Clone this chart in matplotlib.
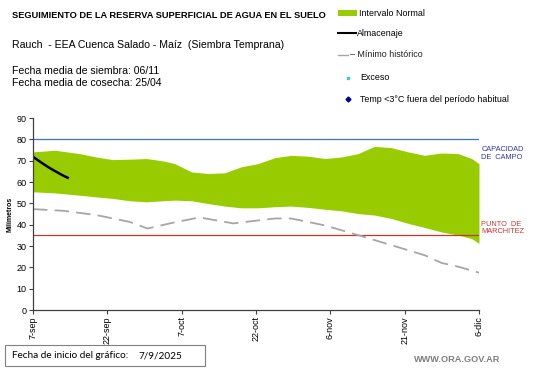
import matplotlib
matplotlib.use("Agg")
import matplotlib.pyplot as plt
from matplotlib.patches import Rectangle
from matplotlib.lines import Line2D

plt.rcParams['font.family'] = ['Liberation Sans', 'DejaVu Sans']

# --- data (days since 7-sep) ---
band_days = [0, 4.4, 9.4, 12.8, 16.1, 19.5, 22.9, 26.2, 28.6, 32, 35.3, 38.7, 42, 45.4, 48.8,
             52.1, 55.5, 59, 62.2, 65.6, 68.9, 72.3, 75.7, 79, 82.4, 85.8, 88.5, 90]
band_upper = [74.1, 74.9, 73.3, 71.7, 70.5, 70.7, 71.0, 69.9, 68.6, 64.7, 64.0, 64.3, 67.1, 68.6, 71.4,
              72.5, 72.1, 71.0, 71.7, 73.3, 76.7, 76.1, 74.1, 72.5, 73.6, 73.3, 71.0, 68.6]
band_lower = [55.4, 54.9, 53.8, 53.0, 52.3, 51.2, 50.7, 51.2, 51.5, 51.2, 49.9, 48.7, 47.9, 47.9, 48.4,
              48.7, 48.1, 47.2, 46.5, 45.2, 44.5, 42.9, 40.6, 38.7, 36.6, 35.1, 33.5, 31.2]

min_days = [0, 6.1, 12.8, 19.5, 23.1, 28.2, 33.6, 40.4, 48.8, 52.1, 59, 65.6, 72.3, 79, 82.4, 85.8, 90]
min_hist = [47.3, 46.5, 44.5, 41.3, 38.2, 40.9, 43.4, 40.6, 42.9, 42.9, 39.6, 35.1, 30.4, 25.7, 22.1, 20.3, 17.5]

alm_days = [0, 1, 2, 3, 4, 5, 6, 7]
almacenaje = [71.8, 70.2, 68.6, 67.1, 65.7, 64.4, 63.1, 62.0]

capacidad_campo = 80
punto_marchitez = 35

tick_days = [0, 15, 30, 45, 60, 75, 90]
tick_labels = ['7-sep', '22-sep', '7-oct', '22-oct', '6-nov', '21-nov', '6-dic']

fig = plt.figure(figsize=(5.41, 3.68), dpi=100)
ax = fig.add_axes([33/541, 1 - 310/368, (479-33)/541, (310-118)/368])

ax.fill_between(band_days, band_lower, band_upper, color='#99cc00', linewidth=0)
ax.axhline(capacidad_campo, color='#3f72c0', linewidth=0.9)
ax.axhline(punto_marchitez, color='#c0392b', linewidth=0.9)
ax.plot(min_days, min_hist, color='#a6a6a6', linewidth=1.3, dashes=(8, 4))
ax.plot(alm_days, almacenaje, color='black', linewidth=1.8)

ax.set_xlim(0, 90)
ax.set_ylim(0, 90)
ax.set_yticks(range(0, 91, 10))
ax.set_xticks(tick_days)
ax.set_xticklabels(tick_labels, rotation=90)
ax.tick_params(axis='both', labelsize=6.5, length=3, width=0.8, color='#404040', pad=1.5)
for s in ['top', 'right']:
    ax.spines[s].set_visible(False)
for s in ['left', 'bottom']:
    ax.spines[s].set_color('#404040')
    ax.spines[s].set_linewidth(0.9)
ax.set_ylabel('Milímetros', fontsize=5, fontweight='bold', labelpad=2)

# right-side labels
ax.text(1.005, (80 - 90) / 90 + 1 - 0.035, 'CAPACIDAD\nDE  CAMPO', transform=ax.transAxes,
        color='#3333aa', fontsize=5.3, va='top', ha='left', linespacing=1.2)
ax.text(1.005, 35/90 + 0.075, 'PUNTO  DE\nMARCHITEZ', transform=ax.transAxes,
        color='#cc3333', fontsize=5.3, va='top', ha='left', linespacing=1.1)

# header texts
fig.text(12/541, 1 - 15/368, 'SEGUIMIENTO DE LA RESERVA SUPERFICIAL DE AGUA EN EL SUELO',
         fontsize=6.7, fontweight='bold', va='center', ha='left')
fig.text(12/541, 1 - 45/368, 'Rauch  - EEA Cuenca Salado - Maíz  (Siembra Temprana)',
         fontsize=7.6, va='center', ha='left')
fig.text(12/541, 1 - 71/368, 'Fecha media de siembra: 06/11', fontsize=7.6, va='center', ha='left')
fig.text(12/541, 1 - 83.5/368, 'Fecha media de cosecha: 25/04', fontsize=7.6, va='center', ha='left')

# legend (manual)
fig.patches.append(Rectangle((338/541, 1 - 15.5/368), 19/541, 5/368, transform=fig.transFigure,
                             color='#99cc00', linewidth=0))
fig.text(359/541, 1 - 13/368, 'Intervalo Normal', fontsize=6.4, va='center', ha='left')
fig.lines.append(Line2D([338/541, 356/541], [1 - 33/368, 1 - 33/368], transform=fig.transFigure,
                        color='black', linewidth=1.5))
fig.text(357/541, 1 - 33/368, 'Almacenaje', fontsize=6.4, va='center', ha='left')
fig.lines.append(Line2D([338/541, 348/541], [1 - 54.5/368, 1 - 54.5/368], transform=fig.transFigure,
                        color='#a6a6a6', linewidth=1.0))
fig.text(350/541, 1 - 54.5/368, '– Mínimo histórico', fontsize=6.4, va='center', ha='left', color='#202020')
fig.lines.append(Line2D([348/541], [1 - 78/368], transform=fig.transFigure, marker='s', markersize=1.8,
                        color='#33cccc', linestyle='none'))
fig.text(360/541, 1 - 77.5/368, 'Exceso', fontsize=6.4, va='center', ha='left')
fig.lines.append(Line2D([348/541], [1 - 99/368], transform=fig.transFigure, marker='D', markersize=2.5,
                        color='#000099', linestyle='none'))
fig.text(360/541, 1 - 99/368, 'Temp <3°C fuera del período habitual', fontsize=6.4, va='center', ha='left')

# footer
fig.patches.append(Rectangle((5/541, 1 - 366/368), 200/541, 21/368, transform=fig.transFigure,
                             facecolor='white', edgecolor='#7f7f7f', linewidth=0.8))
fig.text(12/541, 1 - 356/368, 'Fecha de inicio del gráfico:', fontsize=7.2, va='center', ha='left',
         family=['Lato', 'DejaVu Sans'])
fig.text(138/541, 1 - 356/368, '7/9/2025', fontsize=7.2, va='center', ha='left',
         family=['Lato', 'DejaVu Sans'])
fig.text(500/541, 1 - 360/368, 'WWW.ORA.GOV.AR', fontsize=6.6, fontweight='bold', va='center', ha='right',
         color='#7f7f7f')

fig.savefig('out.png', dpi=100)
